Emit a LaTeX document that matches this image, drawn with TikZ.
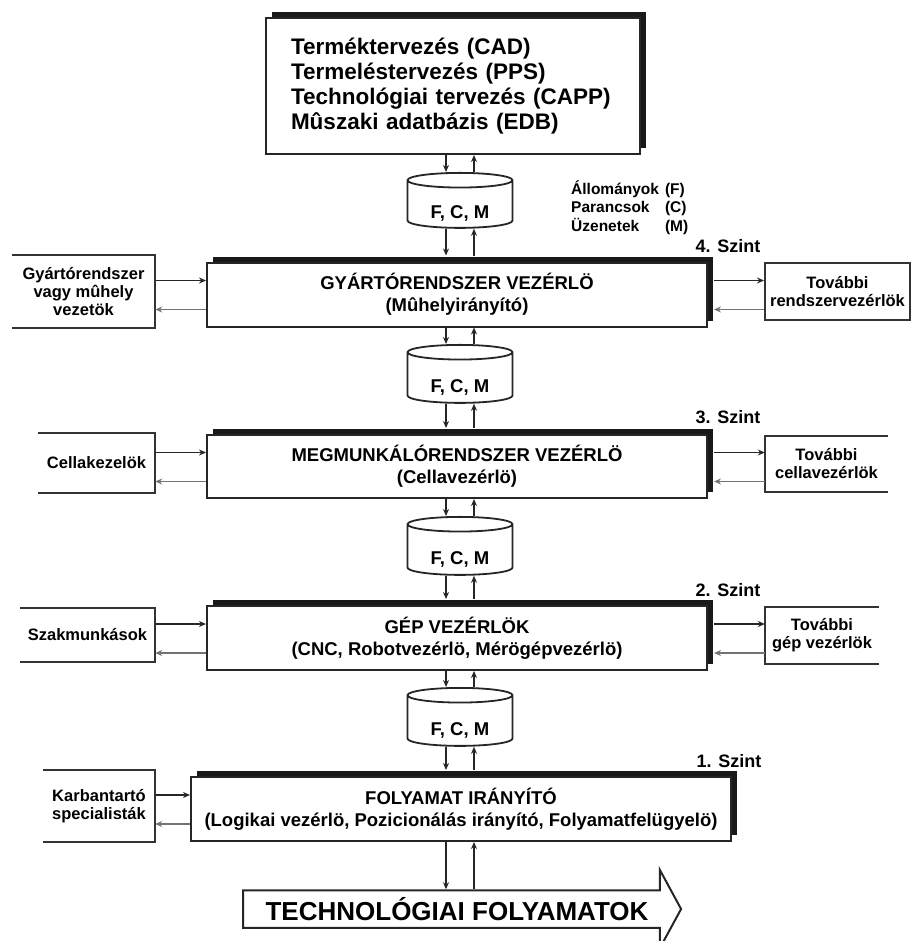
\documentclass[tikz,border=0pt]{standalone}
\usepackage{fontspec}
\setmainfont{Liberation Sans}
\usetikzlibrary{arrows.meta,shapes.geometric,shapes.arrows,shadows}

\tikzset{
  boxshadow/.style={drop shadow={shadow xshift=6pt, shadow yshift=6pt, fill=black!90, opacity=1}},
  topbox/.style={draw=black!85, line width=2pt, fill=white, boxshadow,
    minimum width=374pt, minimum height=136pt, text width=324pt, inner xsep=25pt,
    align=left, font=\fontsize{22.5}{25}\selectfont\bfseries},
  lvlbox/.style={draw=black!85, line width=2pt, fill=white, boxshadow,
    minimum width=500pt, minimum height=64pt, align=center,
    font=\fontsize{18.5}{22}\selectfont\bfseries},
  sidebox/.style={align=center, inner sep=0pt, font=\fontsize{16.5}{18}\selectfont\bfseries},
  sideline/.style={draw=black!80, line width=2pt},
  dbase/.style={cylinder, shape border rotate=90, aspect=0.25, draw=black!85, line width=1.8pt,
    minimum width=105pt, minimum height=58pt, inner sep=0pt, text height=30pt, text depth=2pt,
    font=\fontsize{18.5}{22}\selectfont\bfseries},
  szint/.style={font=\fontsize{18}{20}\selectfont\bfseries, inner sep=0pt},
  flow/.style={-{Stealth[length=7pt,width=6pt]}, line width=1.3pt, black!85},
  back/.style={flow, black!55},
}

\begin{document}
\begin{tikzpicture}[x=1pt, y=-1pt]
\useasboundingbox (0,0) rectangle (911,941);
\clip (0,0) rectangle (911,941);

% planning level
\node[topbox] (plan) at (453,86) {Terméktervezés (CAD)\\Termeléstervezés (PPS)\\Technológiai tervezés (CAPP)\\Mûszaki adatbázis (EDB)};
\node[anchor=north west, inner sep=0pt, font=\fontsize{15.5}{18}\selectfont\bfseries] (legend) at (571,181)
  {\begin{tabular}{@{}l@{\hspace{6pt}}l@{}}Állományok & (F)\\ Parancsok & (C)\\ Üzenetek & (M)\end{tabular}};

% control levels
\node[lvlbox] (lv4) at (457,294.5) {GYÁRTÓRENDSZER VEZÉRLÖ\\(Mûhelyirányító)};
\node[lvlbox, minimum height=63pt] (lv3) at (457,466.5) {MEGMUNKÁLÓRENDSZER VEZÉRLÖ\\(Cellavezérlö)};
\node[lvlbox] (lv2) at (457,638) {GÉP VEZÉRLÖK\\(CNC, Robotvezérlö, Mérögépvezérlö)};
\node[lvlbox, minimum width=540pt] (lv1) at (461,809) {FOLYAMAT IRÁNYÍTÓ\\(Logikai vezérlö, Pozicionálás irányító, Folyamatfelügyelö)};

\node[szint] (sz4) at (728,246) {4. Szint};
\node[szint] (sz3) at (728,417) {3. Szint};
\node[szint] (sz2) at (728,590) {2. Szint};
\node[szint] (sz1) at (729,761) {1. Szint};

% data stores
\node[dbase, minimum height=55pt] (db1) at (460,204.5) {F, C, M};
\node[dbase] (db2) at (460,378) {F, C, M};
\node[dbase] (db3) at (460,550) {F, C, M};
\node[dbase] (db4) at (460,721) {F, C, M};

% process arrow
\node[single arrow, draw=black!85, line width=2pt, fill=white, minimum height=438pt, minimum width=78pt,
  single arrow head extend=18pt, single arrow tip angle=123, inner sep=4pt,
  font=\fontsize{26}{28}\selectfont\bfseries] (tech) at (457,909) {TECHNOLÓGIAI FOLYAMATOK};

% people on the left
\node[sidebox, minimum width=143pt, minimum height=73pt] (lb4) at (83.5,291.5) {Gyártórendszer\\vagy mûhely\\vezetök};
\node[sidebox, minimum width=117pt, minimum height=60pt] (lb3) at (96.5,463) {Cellakezelök};
\node[sidebox, minimum width=135pt, minimum height=54pt] (lb2) at (87.5,635) {Szakmunkások};
\node[sidebox, minimum width=112pt, minimum height=72pt] (lb1) at (99,806) {Karbantartó\\specialisták};
\foreach \b in {lb4,lb3,lb2,lb1}
  \draw[sideline] (\b.north west) -- (\b.north east) -- (\b.south east) -- (\b.south west);

% further controllers on the right
\node[sidebox, draw=black!80, line width=2pt, minimum width=145pt, minimum height=57pt] (rb4) at (837.5,291.5) {További\\rendszervezérlök};
\node[sidebox, minimum width=123pt, minimum height=56pt] (rb3) at (826.5,464) {További\\cellavezérlök};
\node[sidebox, minimum width=114pt, minimum height=57pt] (rb2) at (822,635.5) {További\\gép vezérlök};
\foreach \b in {rb3,rb2}
  \draw[sideline] (\b.north east) -- (\b.north west) -- (\b.south west) -- (\b.south east);

% vertical flows
\draw[flow] ([xshift=-14pt]db1.north |- plan.south) -- ([xshift=-14pt]db1.north);
\draw[flow] ([xshift=14pt]db1.north) -- ([xshift=14pt]db1.north |- plan.south);
\foreach \d/\l in {db1/lv4,db2/lv3,db3/lv2,db4/lv1} {
  \draw[flow] ([xshift=-14pt]\d.south) -- ([xshift=-14pt,yshift=6pt]\d.south |- \l.north);
  \draw[flow] ([xshift=14pt,yshift=6pt]\d.south |- \l.north) -- ([xshift=14pt]\d.south);
}
\foreach \l/\d in {lv4/db2,lv3/db3,lv2/db4} {
  \draw[flow] ([xshift=-14pt]\d.north |- \l.south) -- ([xshift=-14pt]\d.north);
  \draw[flow] ([xshift=14pt]\d.north) -- ([xshift=14pt]\d.north |- \l.south);
}
\draw[flow] ([xshift=-14pt]db4.south |- lv1.south) -- ([xshift=-14pt]db4.south |- tech.north);
\draw[flow] ([xshift=14pt]db4.south |- tech.north) -- ([xshift=14pt]db4.south |- lv1.south);

% horizontal flows
\foreach \b/\l in {lb4/lv4,lb3/lv3,lb2/lv2,lb1/lv1} {
  \draw[flow] ([yshift=14pt]\l.west -| \b.east) -- ([yshift=14pt]\l.west);
  \draw[back] ([yshift=-15pt]\l.west) -- ([yshift=-15pt]\l.west -| \b.east);
}
\foreach \b/\l in {rb4/lv4,rb3/lv3,rb2/lv2} {
  \draw[flow] ([xshift=6pt,yshift=14pt]\l.east) -- ([yshift=14pt]\l.east -| \b.west);
  \draw[back] ([yshift=-15pt]\l.east -| \b.west) -- ([xshift=6pt,yshift=-15pt]\l.east);
}
\end{tikzpicture}
\end{document}
